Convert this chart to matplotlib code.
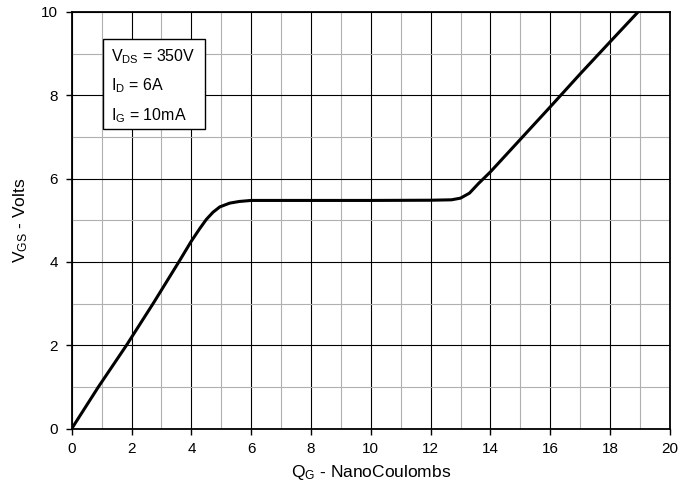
import numpy as np
import matplotlib.pyplot as plt
from matplotlib.ticker import MultipleLocator

plt.rcParams['font.family'] = ['Liberation Sans', 'DejaVu Sans']
plt.rcParams['mathtext.fontset'] = 'custom'
plt.rcParams['mathtext.rm'] = 'Liberation Sans'
plt.rcParams['mathtext.it'] = 'Liberation Sans'

# gate charge curve (nC, V)
qg = [0.0, 0.89, 1.83, 2.72, 3.58, 4.0, 4.28, 4.5, 4.72, 4.95, 5.28, 5.6, 6.0, 8.0, 10.0,
      12.0, 12.7, 13.0, 13.3, 13.6, 14.0, 15.0, 16.0, 17.0, 18.0, 18.94]
vgs = [0.0, 1.0, 2.0, 3.0, 4.0, 4.5, 4.8, 5.02, 5.19, 5.32, 5.41, 5.45, 5.475, 5.475, 5.475,
       5.48, 5.49, 5.53, 5.65, 5.88, 6.16, 6.94, 7.72, 8.51, 9.28, 10.0]

conditions = [r'V$_{\mathrm{DS}}$ = 350V', r'I$_{\mathrm{D}}$ = 6A', r'I$_{\mathrm{G}}$ = 10mA']

fig = plt.figure(figsize=(6.97, 4.96), dpi=100)
ax = fig.add_axes([0.103, 0.136, 0.858, 0.84])

ax.plot(qg, vgs, color='black', linewidth=2.2, zorder=3)

ax.set_xlim(0, 20)
ax.set_ylim(0, 10)
ax.xaxis.set_major_locator(MultipleLocator(2))
ax.xaxis.set_minor_locator(MultipleLocator(1))
ax.yaxis.set_major_locator(MultipleLocator(2))
ax.yaxis.set_minor_locator(MultipleLocator(1))
ax.grid(which='major', color='black', linewidth=0.8)
ax.grid(which='minor', color='#b0b0b0', linewidth=0.8)
ax.tick_params(which='major', direction='out', length=4, width=1, labelsize=11, pad=6)
ax.tick_params(which='minor', length=0)
for s in ax.spines.values():
    s.set_linewidth(1.3)

ax.set_xlabel(r'Q$_{\mathrm{G}}$ - NanoCoulombs', fontsize=12.5, labelpad=5)
ax.set_ylabel(r'V$_{\mathrm{GS}}$ - Volts', fontsize=12.5, labelpad=8)

# conditions box
ax.add_patch(plt.Rectangle((1.05, 7.18), 3.4, 2.16, facecolor='white',
                           edgecolor='black', linewidth=1.0, zorder=4))
for i, t in enumerate(conditions):
    ax.text(1.3, 8.92 - i * 0.7, t, fontsize=11.5, va='center', ha='left', zorder=5)

fig.savefig('out.png', dpi=100)
